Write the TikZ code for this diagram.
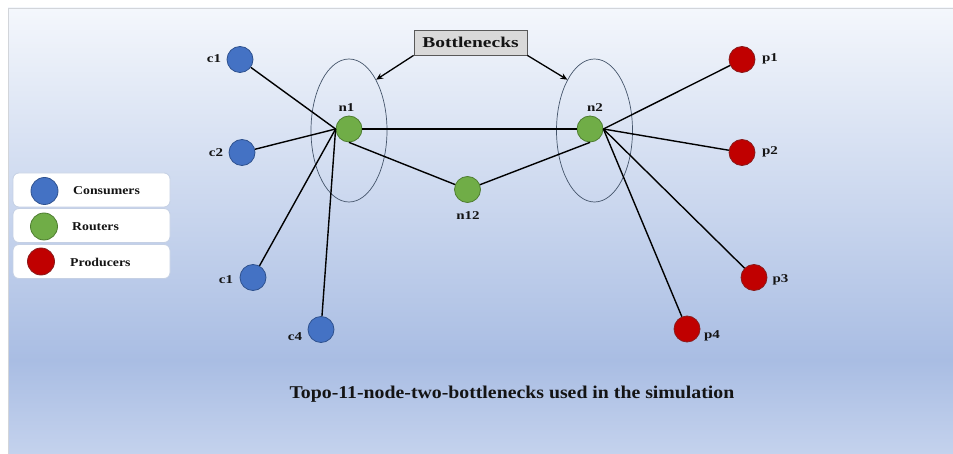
\documentclass[tikz,border=0pt]{standalone}
\usepackage{fontspec}
\usepackage{graphicx}
\setmainfont{Liberation Serif}
\usetikzlibrary{arrows.meta,shapes.geometric}

\definecolor{bgtop}{HTML}{F4F7FC}
\definecolor{bgdark}{HTML}{A9BDE3}
\definecolor{bgbot}{HTML}{C4D2ED}
\definecolor{panelline}{HTML}{D2D5DA}
\definecolor{consumerfill}{HTML}{4472C4}
\definecolor{consumerline}{HTML}{2F528F}
\definecolor{routerfill}{HTML}{70AD47}
\definecolor{routerline}{HTML}{4E7D30}
\definecolor{producerfill}{HTML}{C00000}
\definecolor{producerline}{HTML}{8A1C1C}
\definecolor{ellipseline}{HTML}{44546A}
\definecolor{boxfill}{HTML}{D9D9D9}
\definecolor{boxline}{HTML}{595959}
\definecolor{legline}{HTML}{C5D0E4}
\definecolor{txt}{HTML}{141414}

% horizontally widened text
\newcommand{\widetext}[2]{\scalebox{#1}[1]{#2}}

\begin{document}
\begin{tikzpicture}[x=1pt,y=-1pt,
  dot/.style={circle,inner sep=0pt,minimum size=26pt,line width=0.8pt},
  consumer/.style={dot,fill=consumerfill,draw=consumerline},
  router/.style={dot,fill=routerfill,draw=routerline},
  producer/.style={dot,fill=producerfill,draw=producerline},
  lbl/.style={font=\fontsize{12}{14}\selectfont\bfseries,text=txt,inner sep=0pt},
  link/.style={line width=1.4pt,black},
  bneck/.style={ellipse,draw=ellipseline,line width=0.7pt,inner sep=0pt,
    minimum width=76pt,minimum height=143pt},
  bnbox/.style={draw=boxline,fill=boxfill,line width=0.8pt,inner sep=0pt,
    minimum width=113pt,minimum height=25pt,
    font=\fontsize{15}{17}\selectfont\bfseries,text=txt},
  bnarrow/.style={line width=1.3pt,-{Stealth[length=7pt,width=6pt]}},
  legbox/.style={draw=legline,fill=white,rounded corners=6pt,line width=0.8pt,
    minimum width=157pt,minimum height=34pt,inner sep=0pt},
  legdot/.style={circle,inner sep=0pt,minimum size=27pt,line width=0.8pt},
  legtxt/.style={font=\fontsize{12}{14}\selectfont\bfseries,text=txt,
    inner sep=0pt,anchor=west},
  captiontxt/.style={font=\fontsize{18}{20}\selectfont\bfseries,text=txt,inner sep=0pt}]

\useasboundingbox (0,0) rectangle (953,454);

% page and gradient panel
\fill[white] (0,0) rectangle (953,454);
\shade[top color=bgtop,bottom color=bgdark] (8,8) rectangle (953,361);
\shade[top color=bgdark,bottom color=bgbot] (8,360) rectangle (953,454);
\draw[panelline,line width=1pt] (8.5,454) -- (8.5,8.5) -- (953,8.5);

% bottleneck regions
\node[bneck] (e1) at (349,130.5) {};
\node[bneck] (e2) at (594.5,130.5) {};

% routers
\node[router] (n1) at (349,129) {};
\node[router] (n12) at (467.5,189.5) {};
\node[router] (n2) at (590,129) {};

% consumers
\node[consumer] (c1) at (240,59.5) {};
\node[consumer] (c2) at (242,152.5) {};
\node[consumer] (c3) at (253,277.5) {};
\node[consumer] (c4) at (321,329.5) {};

% producers
\node[producer] (p1) at (742,59.5) {};
\node[producer] (p2) at (742,152.5) {};
\node[producer] (p3) at (754,277.5) {};
\node[producer] (p4) at (687,329) {};

% links
\draw[link] (c1) -- (n1.west);
\draw[link] (c2) -- (n1.west);
\draw[link] (c3) -- (n1.west);
\draw[link] (c4) -- (n1.west);
\draw[link] (n1) -- (n2);
\draw[link] (n1.south) -- (n12);
\draw[link] (n12) -- (n2.south);
\draw[link] (n2.east) -- (p1);
\draw[link] (n2.east) -- (p2);
\draw[link] (n2.east) -- (p3);
\draw[link] (n2.east) -- (p4);

% labels
\node[lbl] (lc1) at (214,59) {\widetext{1.25}{c1}};
\node[lbl] (lc2) at (216,153) {\widetext{1.25}{c2}};
\node[lbl] (lc3) at (226,280) {\widetext{1.25}{c1}};
\node[lbl] (lc4) at (295,337) {\widetext{1.25}{c4}};
\node[lbl] (ln1) at (346.5,108) {\widetext{1.25}{n1}};
\node[lbl] (ln2) at (595,107.5) {\widetext{1.25}{n2}};
\node[lbl] (ln12) at (468,216) {\widetext{1.25}{n12}};
\node[lbl] (lp1) at (770,59) {\widetext{1.25}{p1}};
\node[lbl] (lp2) at (770,152) {\widetext{1.25}{p2}};
\node[lbl] (lp3) at (780.5,280) {\widetext{1.25}{p3}};
\node[lbl] (lp4) at (712,336) {\widetext{1.25}{p4}};

% bottleneck callout
\node[bnbox] (bn) at (470.5,42.5) {\widetext{1.3}{Bottlenecks}};
\draw[bnarrow] (bn.south west) -- (e1.north east);
\draw[bnarrow] (bn.south east) -- (e2.north west);

% legend
\node[legbox] (lb1) at (91.5,190) {};
\node[legbox] (lb2) at (91.5,225.5) {};
\node[legbox] (lb3) at (91.5,261.5) {};
\node[legdot,fill=consumerfill,draw=consumerline] (ld1) at (44.5,191) {};
\node[legdot,fill=routerfill,draw=routerline] (ld2) at (44,226.5) {};
\node[legdot,fill=producerfill,draw=producerline] (ld3) at (41,261.5) {};
\node[legtxt] (lt1) at (73,191) {\widetext{1.15}{Consumers}};
\node[legtxt] (lt2) at (72,227) {\widetext{1.15}{Routers}};
\node[legtxt] (lt3) at (70,262) {\widetext{1.15}{Producers}};

% caption
\node[captiontxt] (cap) at (512,394) {\widetext{1.1}{Topo-11-node-two-bottlenecks used in the simulation}};

\end{tikzpicture}
\end{document}
